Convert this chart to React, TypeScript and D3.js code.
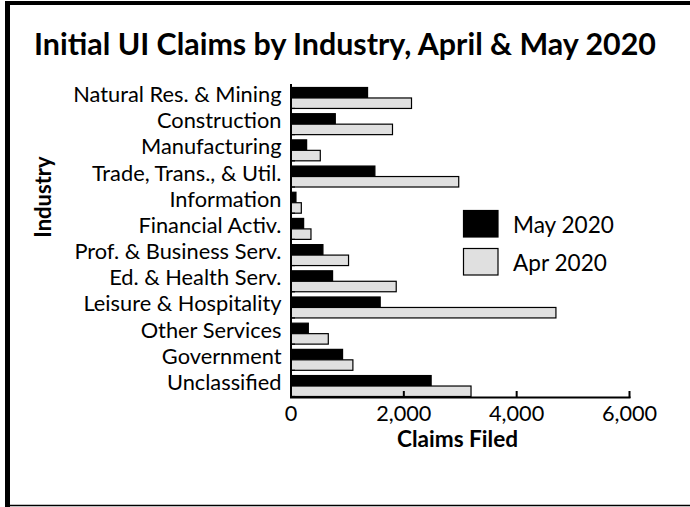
import React from "react";
import * as d3 from "d3";

const categories = [
  "Natural Res. & Mining",
  "Construction",
  "Manufacturing",
  "Trade, Trans., & Util.",
  "Information",
  "Financial Activ.",
  "Prof. & Business Serv.",
  "Ed. & Health Serv.",
  "Leisure & Hospitality",
  "Other Services",
  "Government",
  "Unclassified",
];
const may2020 = [1357, 785, 277, 1487, 88, 224, 566, 737, 1581, 307, 914, 2484];
const apr2020 = [2136, 1799, 519, 2973, 183, 354, 1020, 1865, 4696, 661, 1097, 3191];
const seriesNames = ["May 2020", "Apr 2020"];
const xTicks = [0, 2000, 4000, 6000];

const W = 690;
const H = 507;
const FONT = "Lato, 'Open Sans', sans-serif";

export default function App() {
  const x = d3.scaleLinear().domain([0, 6000]).range([291, 629.5]);
  const y = d3.scaleBand<string>().domain(categories).range([87.5, 396.5]).paddingInner(0.2).paddingOuter(0);
  const sub = d3.scaleBand<string>().domain(seriesNames).range([0, y.bandwidth()]).padding(0);
  const fmt = d3.format(",");
  const fills = ["#000000", "#e0e0e0"];
  const series = [may2020, apr2020];
  const step = y.step();
  const bounds = d3.range(categories.length).map((i) => 396.5 - i * step);

  return (
    <svg width={W} height={H} style={{ position: "absolute", left: 0, top: 0, background: "#fff" }}>
      <rect x={0} y={0} width={W} height={H} fill="#fff" />
      {/* frame */}
      <rect x={5} y={1} width={5} height={506} fill="#000" />
      <rect x={5} y={1} width={685} height={4} fill="#000" />
      <line x1={10} x2={W} y1={505.5} y2={505.5} stroke="#000" strokeWidth={1.5} />

      <text x={345} y={55} textAnchor="middle" fontFamily={FONT} fontWeight="bold" fontSize={30.4} fill="#000">
        Initial UI Claims by Industry, April &amp; May 2020
      </text>

      {/* bars */}
      {series.map((vals, si) =>
        vals.map((v, i) => (
          <rect
            key={`${si}-${i}`}
            x={x(0)}
            y={(y(categories[i]) as number) + (sub(seriesNames[si]) as number)}
            width={x(v) - x(0)}
            height={sub.bandwidth()}
            fill={fills[si]}
            stroke="#000"
            strokeWidth={1.2}
          />
        ))
      )}

      {/* y axis */}
      <line x1={291} x2={291} y1={84} y2={398} stroke="#000" strokeWidth={2} />
      {bounds.map((b, i) => (
        <line key={i} x1={291} x2={295} y1={b} y2={b} stroke="#000" strokeWidth={1.2} />
      ))}
      {categories.map((c) => (
        <text
          key={c}
          x={281.5}
          y={(y(c) as number) + y.bandwidth() / 2 - 4.5}
          dominantBaseline="central"
          textAnchor="end"
          fontFamily={FONT}
          fontSize={21.8}
          fill="#000"
        >
          {c}
        </text>
      ))}

      {/* x axis */}
      <line x1={290} x2={630.5} y1={397.5} y2={397.5} stroke="#000" strokeWidth={2} />
      {xTicks.map((t) => (
        <g key={t}>
          <line x1={x(t)} x2={x(t)} y1={391} y2={398} stroke="#000" strokeWidth={2} />
          <text x={x(t)} y={421} textAnchor="middle" fontFamily={FONT} fontSize={21.7} fill="#000">
            {fmt(t)}
          </text>
        </g>
      ))}
      <text x={457.5} y={447} textAnchor="middle" fontFamily={FONT} fontWeight="bold" fontSize={22.6} fill="#000">
        Claims Filed
      </text>
      <text
        transform="translate(51,197) rotate(-90)"
        textAnchor="middle"
        fontFamily={FONT}
        fontWeight="bold"
        fontSize={22}
        fill="#000"
      >
        Industry
      </text>

      {/* legend */}
      {seriesNames.map((s, i) => (
        <g key={s} transform={`translate(463.5,${210.5 + i * 38})`}>
          <rect x={0} y={0} width={34.5} height={26.5} fill={fills[i]} stroke="#000" strokeWidth={1.2} />
          <text x={49.5} y={13.5} dominantBaseline="central" fontFamily={FONT} fontSize={22.6} fill="#000">
            {s}
          </text>
        </g>
      ))}
    </svg>
  );
}
